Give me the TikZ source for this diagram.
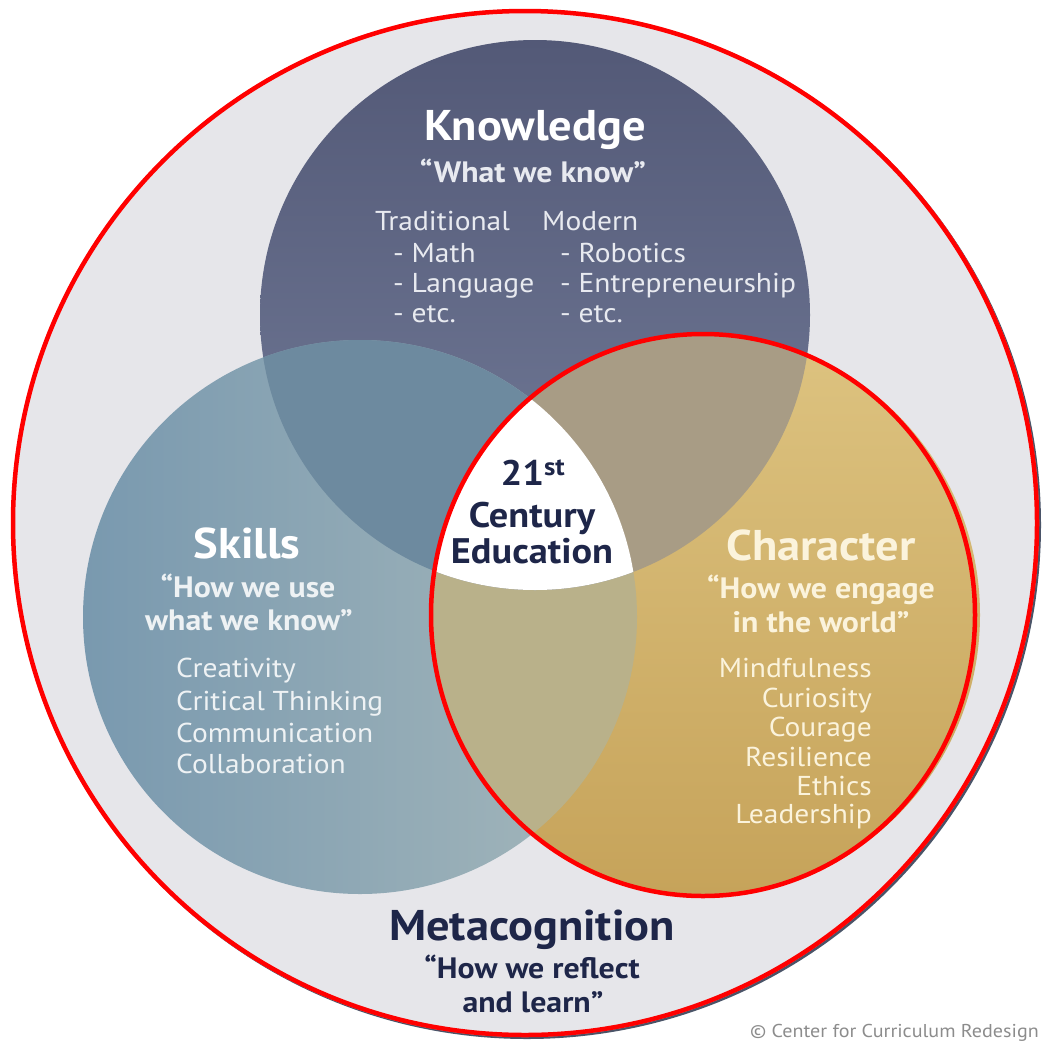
\documentclass[tikz,border=0pt]{standalone}
\usepackage{fontspec}
\setmainfont{PT Sans}[FakeStretch=1.08]
\usepackage{tikz}

\definecolor{ringgray}{HTML}{E6E6EA}
\definecolor{ringshade}{HTML}{4A5468}
\definecolor{knowtop}{HTML}{535977}
\definecolor{knowbot}{HTML}{747D9A}
\definecolor{skilleft}{HTML}{7999AF}
\definecolor{skilright}{HTML}{A6B8BB}
\definecolor{chartop}{HTML}{DDC380}
\definecolor{charbot}{HTML}{C6A35A}
\definecolor{ksmix}{HTML}{6D8A9F}
\definecolor{kcmix}{HTML}{A89C85}
\definecolor{scmix}{HTML}{B9B18A}
\definecolor{navy}{HTML}{1E2649}
\definecolor{knowtext}{HTML}{E8EAF0}
\definecolor{skiltext}{HTML}{EEF2F4}
\definecolor{chartext}{HTML}{FBF3DC}

\begin{document}
\begin{tikzpicture}[x=1pt, y=-1pt, inner sep=0pt,
    title/.style={anchor=base, font=\bfseries\fontsize{43}{43}\selectfont},
    motto/.style={anchor=base, font=\bfseries\fontsize{29.5}{29.5}\selectfont},
    item/.style={font=\fontsize{27.3}{27.3}\selectfont}]
    \useasboundingbox (0,0) rectangle (1042,1042);
    \clip (0,0) rectangle (1042,1042);

    \fill[ringshade] (527,525) circle[radius=514pt];
    \fill[ringgray] (525,523) circle[radius=514pt];

    \shade[top color=knowtop, bottom color=knowbot] (535,315) circle[radius=275pt];
    \shade[left color=skilleft, right color=skilright] (360,617) circle[radius=277pt];
    \shade[top color=chartop, bottom color=charbot] (706,615) ellipse[x radius=274pt, y radius=280pt];

    \begin{scope}
        \clip (360,617) circle[radius=277pt];
        \fill[scmix] (706,615) ellipse[x radius=274pt, y radius=280pt];
    \end{scope}
    \begin{scope}
        \clip (535,315) circle[radius=275pt];
        \fill[ksmix] (360,617) circle[radius=277pt];
        \fill[kcmix] (706,615) ellipse[x radius=274pt, y radius=280pt];
        \clip (360,617) circle[radius=277pt];
        \fill[white] (706,615) ellipse[x radius=274pt, y radius=280pt];
    \end{scope}

    \draw[red, line width=4.5pt] (525,523) circle[radius=512pt];
    \draw[red, line width=4.5pt] (703,615) ellipse[x radius=272pt, y radius=281pt];

    \node[title, text=white] (K) at (535,140) {Knowledge};
    \node[motto, text=knowtext] (K1) at (533,182) {“What we know”};
    \node[item, anchor=base west, text=knowtext] (T0) at (375,230) {Traditional};
    \node[item, anchor=base west, text=knowtext] (T1) at (393,262) {- Math};
    \node[item, anchor=base west, text=knowtext] (T2) at (393,292) {- Language};
    \node[item, anchor=base west, text=knowtext] (T3) at (393,322) {- etc.};
    \node[item, anchor=base west, text=knowtext] (M0) at (542,230) {Modern};
    \node[item, anchor=base west, text=knowtext] (M1) at (560,262) {- Robotics};
    \node[item, anchor=base west, text=knowtext] (M2) at (560,292) {- Entrepreneurship};
    \node[item, anchor=base west, text=knowtext] (M3) at (560,322) {- etc.};

    \node[title, text=white] (S) at (247,558) {Skills};
    \node[motto, text=skiltext] (S1) at (248,597) {“How we use};
    \node[motto, text=skiltext] (S2) at (249,630) {what we know”};
    \node[item, anchor=base west, text=skiltext] (S3) at (176,677) {Creativity};
    \node[item, anchor=base west, text=skiltext] (S4) at (176,710) {Critical Thinking};
    \node[item, anchor=base west, text=skiltext] (S5) at (176,742) {Communication};
    \node[item, anchor=base west, text=skiltext] (S6) at (176,773) {Collaboration};

    \node[title, text=chartext] (C) at (821,560) {Character};
    \node[motto, text=chartext] (C1) at (821,598) {“How we engage};
    \node[motto, text=chartext] (C2) at (821,632) {in the world”};
    \node[item, anchor=base east, text=chartext] (C3) at (872,677) {Mindfulness};
    \node[item, anchor=base east, text=chartext] (C4) at (872,707) {Curiosity};
    \node[item, anchor=base east, text=chartext] (C5) at (872,736) {Courage};
    \node[item, anchor=base east, text=chartext] (C6) at (872,766) {Resilience};
    \node[item, anchor=base east, text=chartext] (C7) at (872,795) {Ethics};
    \node[item, anchor=base east, text=chartext] (C8) at (872,823) {Leadership};

    \node[anchor=base, text=navy, font=\bfseries\fontsize{35.5}{35.5}\selectfont] (E1) at (533,485) {21\textsuperscript{st}};
    \node[anchor=base, text=navy, font=\bfseries\fontsize{35.5}{35.5}\selectfont] (E2) at (532,527) {Century};
    \node[anchor=base, text=navy, font=\bfseries\fontsize{35.5}{35.5}\selectfont] (E3) at (532,563) {Education};

    \node[title, text=navy] (MC) at (532,940) {Metacognition};
    \node[motto, text=navy] (MC1) at (532,978) {“How we reflect};
    \node[motto, text=navy] (MC2) at (533,1012) {and learn”};

    \node[anchor=base east, text=black!45, font=\fontsize{18.6}{18.6}\selectfont] (CR) at (1039,1037) {© Center for Curriculum Redesign};
\end{tikzpicture}
\end{document}
